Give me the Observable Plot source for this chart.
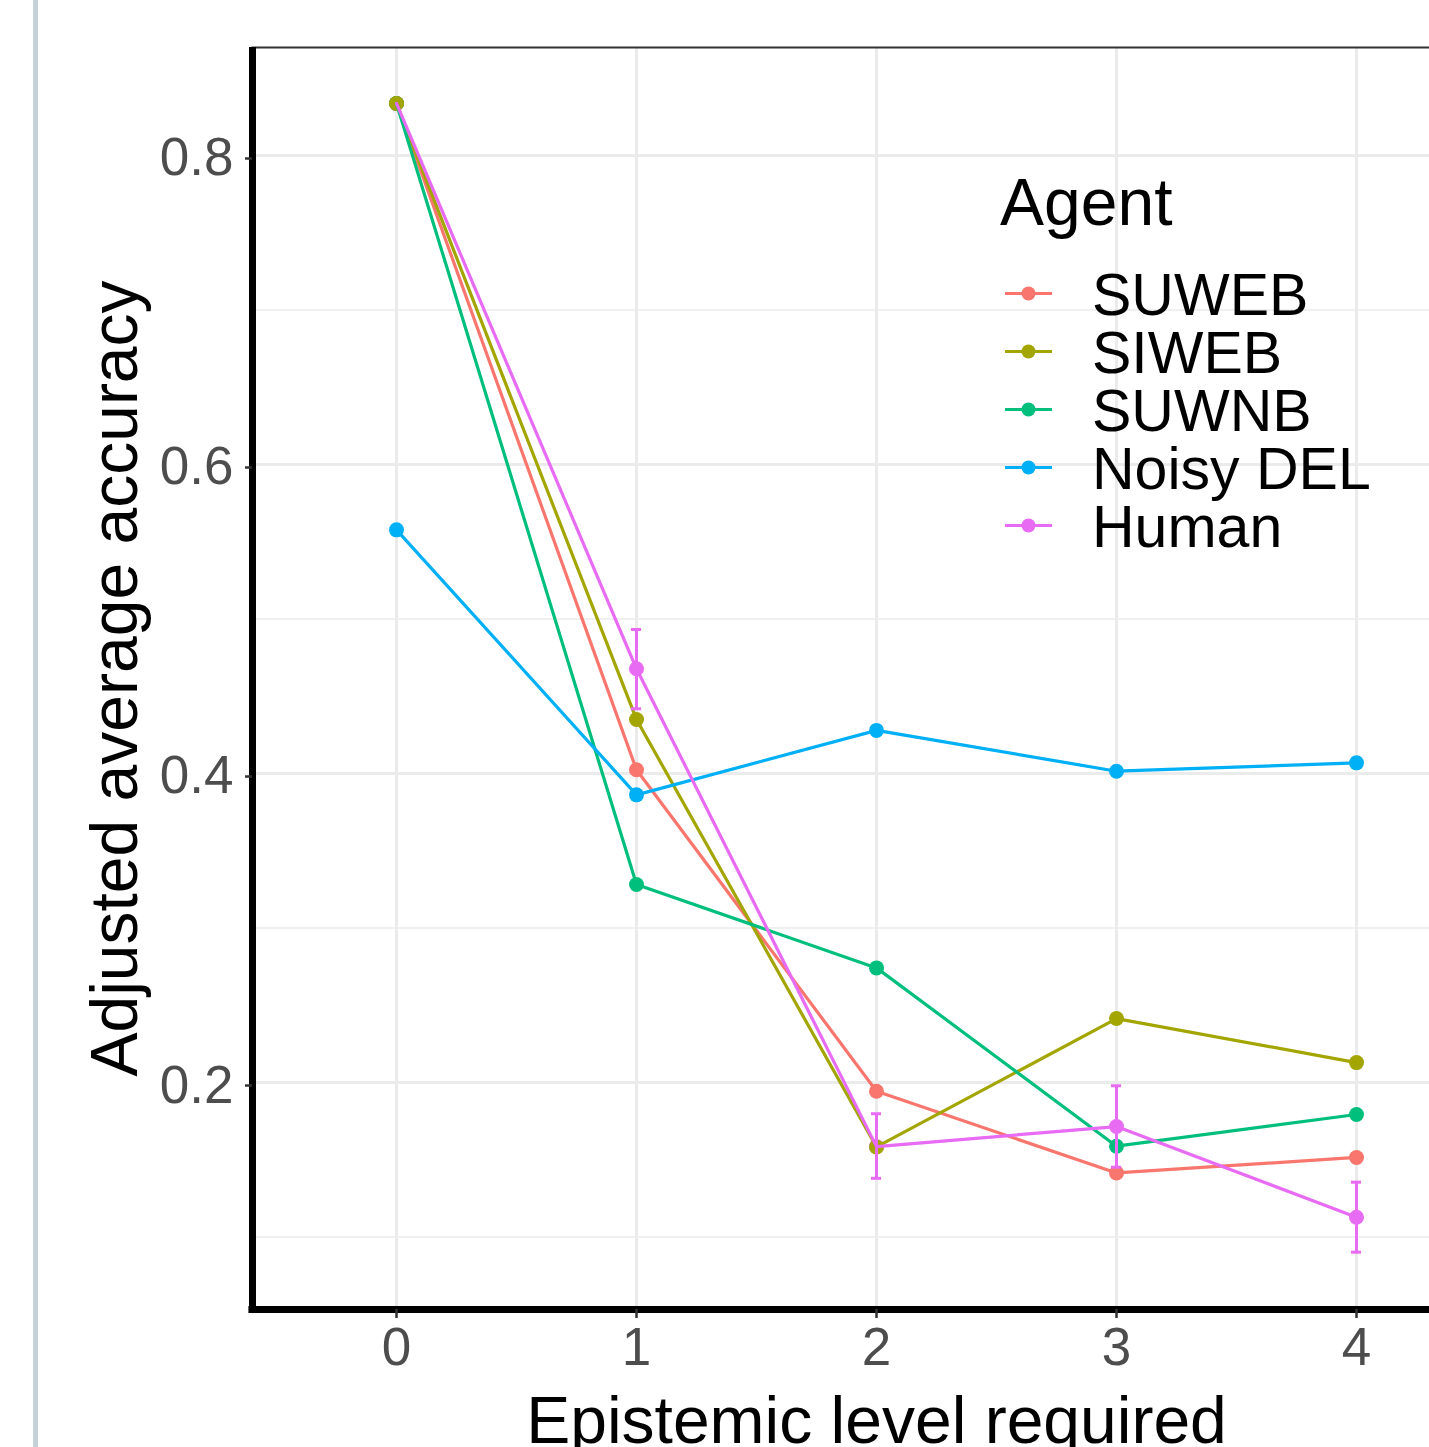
<!DOCTYPE html>
<html>
<head>
<meta charset="utf-8">
<script src="https://cdn.jsdelivr.net/npm/d3@7"></script>
<script src="https://cdn.jsdelivr.net/npm/@observablehq/plot@0.6"></script>
<style>
  html, body { margin: 0; padding: 0; background: #fff; overflow: hidden; }
  #wrap { position: relative; width: 1429px; height: 1447px; overflow: hidden; }
  #bar { position: absolute; left: 33px; top: 0; width: 5px; height: 1447px; background: #c4d1d6; }
  #chart { position: absolute; left: 0; top: 0; width: 1500px; }
  #chart svg { max-width: none !important; }
  #legend { position: absolute; left: 1000px; top: 169px; font-family: "Liberation Sans", Arial, Helvetica, sans-serif; color: #000; }
  #legend .title { font-size: 66px; line-height: 66px; height: 96.5px; }
  #legend .item { position: relative; height: 58px; line-height: 58px; font-size: 59px; }
  #legend .item svg { position: absolute; left: 5px; top: 0; }
  #legend .item span { position: absolute; left: 92px; top: 0; white-space: nowrap; }
</style>
</head>
<body>
<div id="wrap">
  <div id="bar"></div>
  <div id="chart"></div>
  <div id="legend"></div>
</div>
<script>
// ---- data ----
const agents = ["SUWEB", "SIWEB", "SUWNB", "Noisy DEL", "Human"];
const agentColors = ["#F8766D", "#A3A500", "#00BF7D", "#00B0F6", "#E76BF3"];
const levels = [0, 1, 2, 3, 4];
const suweb    = [0.8337, 0.4024, 0.1944, 0.1415, 0.1515];
const siweb    = [0.8337, 0.4350, 0.1583, 0.2414, 0.2129];
const suwnb    = [0.8337, 0.3282, 0.2742, 0.1588, 0.1793];
const noisyDel = [0.5577, 0.3862, 0.4279, 0.4015, 0.4069];
const human    = [0.8337, 0.4678, 0.1585, 0.1715, 0.1128];
const humanErrLevels = [1, 2, 3, 4];
const humanLow  = [0.4419, 0.1380, 0.1452, 0.0902];
const humanHigh = [0.4932, 0.1798, 0.1979, 0.1355];
const yTicks = [0.2, 0.4, 0.6, 0.8];
const yMinor = [0.1, 0.3, 0.5, 0.7];
const xDomain = [-0.6, 4.6];
const yDomain = [0.0531, 0.8699];
const errHalfWidth = 0.021;
const xTitle = "Epistemic level required";
const yTitle = "Adjusted average accuracy";

const seriesValues = [suweb, siweb, suwnb, noisyDel, human];
const rows = [];
agents.forEach((a, i) => levels.forEach((l, j) => rows.push({agent: a, level: l, acc: seriesValues[i][j]})));
// points drawn in data order (human first, SIWEB last)
const dotOrder = ["Human", "SUWEB", "SUWNB", "Noisy DEL", "SIWEB"];
const dotRows = dotOrder.flatMap(a => rows.filter(r => r.agent === a));
const errRows = humanErrLevels.map((l, i) => ({agent: "Human", level: l, lo: humanLow[i], hi: humanHigh[i]}));

const font = '"Liberation Sans", Arial, Helvetica, sans-serif';
const humanColor = agentColors[agents.indexOf("Human")];

const plot = Plot.plot({
  width: 1500,
  height: 1460,
  marginTop: 47,
  marginLeft: 252,
  marginRight: 0,
  marginBottom: 151,
  style: {fontFamily: font, background: "transparent", overflow: "visible", maxWidth: "none"},
  x: {domain: xDomain},
  y: {domain: yDomain},
  color: {domain: agents, range: agentColors},
  marks: [
    Plot.gridY(yMinor, {stroke: "#EBEBEB", strokeOpacity: 1, strokeWidth: 1.5}),
    Plot.gridY(yTicks, {stroke: "#EBEBEB", strokeOpacity: 1, strokeWidth: 3}),
    Plot.gridX(levels, {stroke: "#EBEBEB", strokeOpacity: 1, strokeWidth: 3}),
    Plot.frame({stroke: "#333", strokeWidth: 2}),
    Plot.dot(dotRows, {x: "level", y: "acc", fill: "agent", r: 7.5}),
    Plot.line(rows, {x: "level", y: "acc", stroke: "agent", z: "agent", strokeWidth: 3.2}),
    Plot.ruleX(errRows, {x: "level", y1: "lo", y2: "hi", stroke: humanColor, strokeWidth: 3}),
    Plot.ruleY(errRows, {y: "lo", x1: d => d.level - errHalfWidth, x2: d => d.level + errHalfWidth, stroke: humanColor, strokeWidth: 3}),
    Plot.ruleY(errRows, {y: "hi", x1: d => d.level - errHalfWidth, x2: d => d.level + errHalfWidth, stroke: humanColor, strokeWidth: 3}),
    Plot.ruleX([xDomain[0]], {stroke: "#000", strokeWidth: 7}),
    Plot.ruleY([yDomain[0]], {x1: xDomain[0] - 0.015, x2: xDomain[1], stroke: "#000", strokeWidth: 7}),
    Plot.axisY(yTicks, {
      anchor: "left", tickSize: 7, tickPadding: 12, fontSize: 53, fill: "#4D4D4D", stroke: "#333", strokeWidth: 2.5,
      tickFormat: d => d.toFixed(1), dy: 3,
      label: yTitle, labelAnchor: "center", labelOffset: 162, labelArrow: "none"
    }),
    Plot.axisX(levels, {
      anchor: "bottom", tickSize: 9, tickPadding: 9, fontSize: 53, fill: "#4D4D4D", stroke: "#333", strokeWidth: 2.5,
      tickFormat: d => String(d),
      label: xTitle, labelAnchor: "center", labelOffset: 133, labelArrow: "none"
    })
  ]
});
// axis titles: black, larger, no arrows
plot.querySelectorAll("[aria-label='y-axis label'] text, [aria-label='x-axis label'] text").forEach(t => {
  t.setAttribute("font-size", "66");
  t.setAttribute("fill", "#000");
  const isY = t.closest("[aria-label='y-axis label']") != null;
  const target = isY ? yTitle : xTitle;
  const tspan = t.querySelector("tspan");
  if (tspan) tspan.textContent = target; else t.textContent = target;
});
document.getElementById("chart").appendChild(plot);

// ---- legend (ggplot-style, inside the panel) ----
const color = plot.scale("color");
const legend = document.getElementById("legend");
const title = document.createElement("div");
title.className = "title";
title.textContent = "Agent";
legend.appendChild(title);
color.domain.forEach((a, i) => {
  const item = document.createElement("div");
  item.className = "item";
  const c = color.range[i];
  item.innerHTML = `<svg width="48" height="58"><line x1="0" x2="47" y1="27.5" y2="27.5" stroke="${c}" stroke-width="3"/><circle cx="23.5" cy="27.5" r="7" fill="${c}"/></svg><span>${a}</span>`;
  legend.appendChild(item);
});
</script>
</body>
</html>
